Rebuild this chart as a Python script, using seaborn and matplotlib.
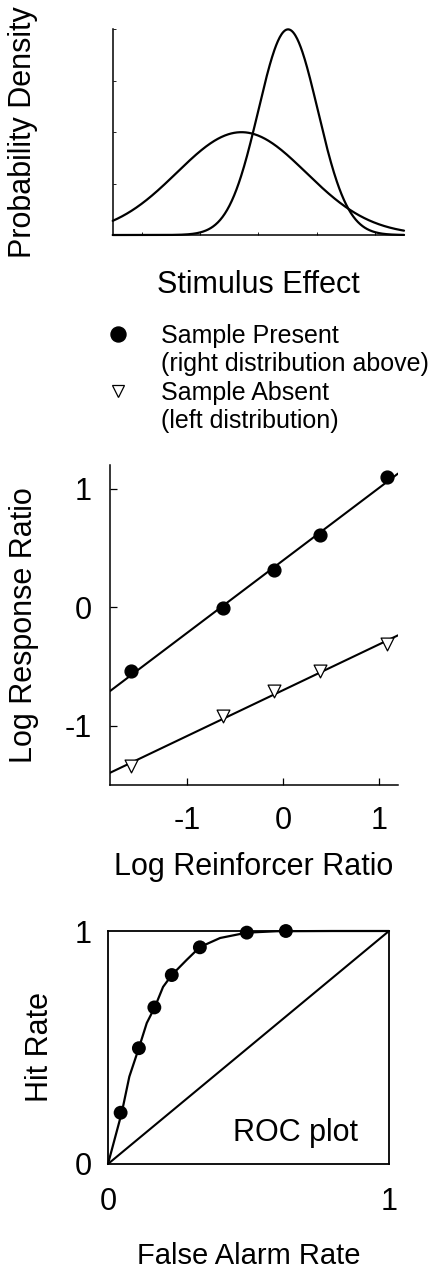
import numpy as np
import seaborn as sns
import matplotlib.pyplot as plt
from matplotlib.lines import Line2D

# top panel: two distributions (noise = sample absent, signal = sample present)
dist_mean = [1.71, 2.51]
dist_sd = [1.11, 0.51]
dist_peak = [0.40, 0.80]

# middle panel: log response ratio vs log reinforcer ratio
log_reinf = [-1.58, -0.62, -0.09, 0.39, 1.09]
present_resp = [-0.54, -0.01, 0.31, 0.61, 1.10]
absent_resp = [-1.34, -0.92, -0.71, -0.54, -0.31]

# bottom panel: ROC
roc_fa = [0.045, 0.110, 0.165, 0.227, 0.327, 0.494, 0.633]
roc_hit = [0.220, 0.497, 0.672, 0.811, 0.930, 0.993, 1.0]
curve_fa = [0, 0.049, 0.076, 0.110, 0.138, 0.167, 0.196, 0.227, 0.280,
            0.327, 0.399, 0.494, 0.6, 0.8, 1.0]
curve_hit = [0, 0.220, 0.375, 0.498, 0.605, 0.674, 0.760, 0.811, 0.876,
             0.931, 0.970, 0.993, 0.999, 1.0, 1.0]
chance = [0, 1]

sns.set_style('ticks')
plt.rcParams['font.family'] = ['Liberation Sans', 'DejaVu Sans']
plt.rcParams['axes.unicode_minus'] = False
plt.rcParams['axes.linewidth'] = 1.1
plt.rcParams['text.color'] = 'black'
plt.rcParams['axes.labelcolor'] = 'black'
plt.rcParams['xtick.color'] = 'black'
plt.rcParams['ytick.color'] = 'black'
plt.rcParams['axes.edgecolor'] = 'black'

fig = plt.figure(figsize=(4.34, 12.71), dpi=100)
ax1 = fig.add_axes([0.2597, 0.8151, 0.6712, 0.1618])
ax2 = fig.add_axes([0.2535, 0.3824, 0.6636, 0.2518])
ax3 = fig.add_axes([0.2488, 0.0842, 0.6475, 0.1833])

# --- top: distributions
xs = np.linspace(-0.5, 4.5, 500)
for m, s, p in zip(dist_mean, dist_sd, dist_peak):
    dens = p * np.exp(-0.5 * ((xs - m) / s) ** 2)
    sns.lineplot(x=xs, y=dens, ax=ax1, color='black', lw=1.6, clip_on=False)
ax1.set_xlim(-0.5, 4.5)
ax1.set_ylim(0, 0.8)
ax1.set_xticks([0, 1, 2, 3, 4])
ax1.set_yticks([0.2, 0.4, 0.6, 0.8])
ax1.set_xticklabels([])
ax1.set_yticklabels([])
ax1.tick_params(direction='in', length=2, width=0.6)
sns.despine(ax=ax1)
ax1.set_ylabel('Probability Density', fontsize=22)
ax1.set_xlabel('Stimulus Effect', fontsize=22)
ax1.yaxis.set_label_coords(-0.256, 0.5)
ax1.xaxis.set_label_coords(0.5, -0.17)

# legend
handles = [
    Line2D([], [], ls='none', marker='o', color='black', markersize=10.8),
    Line2D([], [], ls='none', marker=''),
    Line2D([], [], ls='none', marker='v', mfc='white', mec='black',
           markersize=9, mew=0.9),
    Line2D([], [], ls='none', marker=''),
]
labels = ['Sample Present', '(right distribution above)',
          'Sample Absent', '(left distribution)']
fig.legend(handles, labels, loc='upper left', bbox_to_anchor=(0.2427, 0.7450),
           frameon=False, fontsize=18, handlelength=1.0, handletextpad=1.24,
           borderpad=0, borderaxespad=0, labelspacing=0.17)

# --- middle: generalized matching lines
ax2.set_xlim(-1.8, 1.2)
ax2.set_ylim(-1.5, 1.2)
sns.regplot(x=log_reinf, y=present_resp, ax=ax2, ci=None, truncate=False,
            marker='o',
            scatter_kws=dict(s=85, color='black', alpha=1, zorder=3),
            line_kws=dict(color='black', lw=1.5))
sns.regplot(x=log_reinf, y=absent_resp, ax=ax2, ci=None, truncate=False,
            marker='v',
            scatter_kws=dict(s=85, facecolor='white', edgecolor='black',
                             linewidths=0.9, alpha=1, zorder=3),
            line_kws=dict(color='black', lw=1.5))
ax2.set_xlim(-1.8, 1.2)
ax2.set_ylim(-1.5, 1.2)
ax2.set_xticks([-1, 0, 1])
ax2.set_yticks([-1, 0, 1])
ax2.tick_params(direction='in', length=5, width=0.9, labelsize=22)
ax2.tick_params(axis='y', pad=13)
ax2.tick_params(axis='x', pad=15)
sns.despine(ax=ax2)
ax2.set_ylabel('Log Response Ratio', fontsize=22)
ax2.set_xlabel('Log Reinforcer Ratio', fontsize=22)
ax2.yaxis.set_label_coords(-0.2465, 0.5)
ax2.xaxis.set_label_coords(0.5, -0.209)

# --- bottom: ROC plot
sns.lineplot(x=chance, y=chance, ax=ax3, color='black', lw=1.5)
sns.lineplot(x=curve_fa, y=curve_hit, ax=ax3, color='black', lw=1.6,
             sort=False, clip_on=False)
sns.scatterplot(x=roc_fa, y=roc_hit, ax=ax3, color='black', s=100,
                edgecolor='none', zorder=3, clip_on=False)
ax3.set_xlim(0, 1)
ax3.set_ylim(0, 1)
ax3.set_xticks([0, 1])
ax3.set_yticks([0, 1])
ax3.tick_params(length=0, labelsize=22)
ax3.tick_params(axis='y', pad=11.5)
ax3.tick_params(axis='x', pad=16.5)
for sp in ax3.spines.values():
    sp.set_linewidth(1.3)
ax3.text(0.445, 0.10, 'ROC plot', fontsize=22, va='baseline')
ax3.set_ylabel('Hit Rate', fontsize=22)
ax3.set_xlabel('False Alarm Rate', fontsize=21)
ax3.yaxis.set_label_coords(-0.19, 0.5)
ax3.xaxis.set_label_coords(0.5, -0.335)

fig.savefig('out.png', dpi=100)
